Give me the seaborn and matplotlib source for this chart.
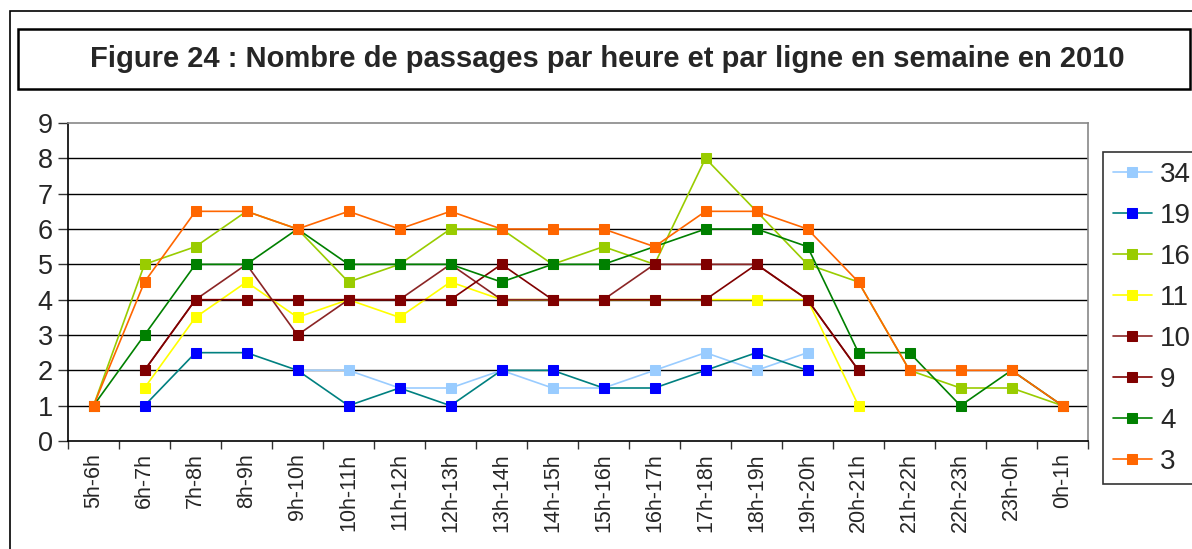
import numpy as np
import pandas as pd
import matplotlib
matplotlib.use('Agg')
import matplotlib.pyplot as plt
from matplotlib.patches import Rectangle
import seaborn as sns

# Données
heures = ['5h-6h', '6h-7h', '7h-8h', '8h-9h', '9h-10h', '10h-11h', '11h-12h',
          '12h-13h', '13h-14h', '14h-15h', '15h-16h', '16h-17h', '17h-18h',
          '18h-19h', '19h-20h', '20h-21h', '21h-22h', '22h-23h', '23h-0h', '0h-1h']
n = np.nan
ligne_34 = [n, n, n, n, 2, 2, 1.5, 1.5, 2, 1.5, 1.5, 2, 2.5, 2, 2.5, n, n, n, n, n]
ligne_19 = [n, 1, 2.5, 2.5, 2, 1, 1.5, 1, 2, 2, 1.5, 1.5, 2, 2.5, 2, n, n, n, n, n]
ligne_16 = [1, 5, 5.5, 6.5, 6, 4.5, 5, 6, 6, 5, 5.5, 5, 8, 6.5, 5, 4.5, 2, 1.5, 1.5, 1]
ligne_11 = [n, 1.5, 3.5, 4.5, 3.5, 4, 3.5, 4.5, 4, 4, 4, 4, 4, 4, 4, 1, n, n, n, n]
ligne_10 = [n, 2, 4, 5, 3, 4, 4, 5, 4, 4, 4, 5, 5, 5, 4, 2, n, n, n, n]
ligne_9 = [n, 2, 4, 4, 4, 4, 4, 4, 5, 4, 4, 4, 4, 5, 4, 2, n, n, n, n]
ligne_4 = [1, 3, 5, 5, 6, 5, 5, 5, 4.5, 5, 5, 5.5, 6, 6, 5.5, 2.5, 2.5, 1, 2, 1]
ligne_3 = [1, 4.5, 6.5, 6.5, 6, 6.5, 6, 6.5, 6, 6, 6, 5.5, 6.5, 6.5, 6, 4.5, 2, 2, 2, 1]

noms = ['34', '19', '16', '11', '10', '9', '4', '3']
series = [ligne_34, ligne_19, ligne_16, ligne_11, ligne_10, ligne_9, ligne_4, ligne_3]
couleurs_ligne = ['#99CCFF', '#008080', '#99CC00', '#FFFF00', '#8B2525', '#800000', '#008000', '#FF6600']
couleurs_marqueur = ['#99CCFF', '#0000FF', '#99CC00', '#FFFF00', '#800000', '#800000', '#008000', '#FF6600']

sns.set_style('white')
plt.rcParams['font.family'] = ['Liberation Sans', 'DejaVu Sans']

fig = plt.figure(figsize=(11.92, 5.49), dpi=100)
ax = fig.add_axes([68 / 1192, 1 - 441 / 549, (1088 - 68) / 1192, (441 - 123) / 549])

x = np.arange(len(heures))
for nom, vals, cl, cm in zip(noms, series, couleurs_ligne, couleurs_marqueur):
    df = pd.DataFrame({'x': x, 'y': vals}).dropna()
    sns.lineplot(data=df, x='x', y='y', ax=ax, color=cl, marker='s', markersize=6.5,
                 markerfacecolor=cm, markeredgecolor=cm, linewidth=1.2, label=nom, zorder=3)

# Axes et quadrillage
ax.set_xlim(-0.5, len(heures) - 0.5)
ax.set_ylim(0, 9)
ax.set_yticks(range(0, 10))
ax.set_xticks(x)
ax.set_xticklabels(heures, rotation=90, fontsize=15.5)
ax.set_xticks(np.arange(-0.5, len(heures), 1), minor=True)
ax.tick_params(axis='x', which='major', length=0, pad=9)
ax.tick_params(axis='x', which='minor', length=6, width=1, color='#333333', direction='out', bottom=True)
ax.tick_params(axis='y', length=7, width=1, color='#333333', direction='out', left=True, labelsize=19.5, pad=4)
ax.set_xlabel('')
ax.set_ylabel('')
for yv in range(1, 9):
    ax.axhline(yv, color='black', linewidth=1, zorder=1)
for s in ['top', 'right']:
    ax.spines[s].set_color('#888888')
    ax.spines[s].set_linewidth(1.2)
for s in ['left', 'bottom']:
    ax.spines[s].set_color('black')
    ax.spines[s].set_linewidth(1.2)

# Légende
ax.get_legend().remove()
handles, labels = ax.get_legend_handles_labels()
leg = fig.legend(handles, labels, loc='upper left', bbox_to_anchor=(1103 / 1192, 1 - 152 / 549),
                 fontsize=20, frameon=True, fancybox=False, edgecolor='black', borderpad=0.35,
                 labelspacing=0.54, handlelength=1.4, handletextpad=0.3, borderaxespad=0)
leg.get_frame().set_linewidth(1.2)

# Cadres et titre
fig.patches.append(Rectangle((10 / 1192, -0.2), 1.2, 1.2 - 11 / 549, transform=fig.transFigure,
                             fill=False, edgecolor='black', linewidth=1.2))
fig.patches.append(Rectangle((18 / 1192, 1 - 89 / 549), (1190 - 18) / 1192, 60 / 549,
                             transform=fig.transFigure, fill=False, edgecolor='black', linewidth=1.8))
fig.text(607 / 1192, 1 - 59 / 549, 'Figure 24 : Nombre de passages par heure et par ligne en semaine en 2010',
         ha='center', va='center', fontsize=21, fontweight='bold')

fig.savefig('out.png', dpi=100)
